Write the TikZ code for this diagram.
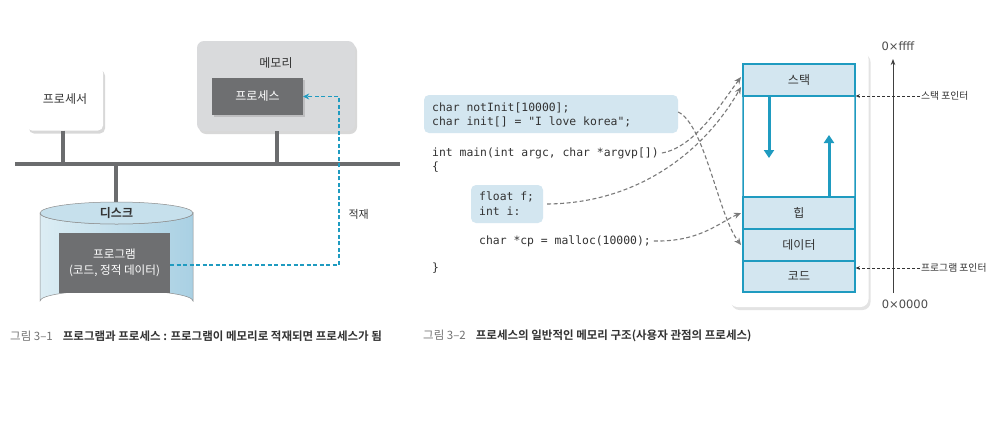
\documentclass[tikz,border=0pt]{standalone}
\usepackage{fontspec}
\setmainfont{Noto Sans CJK KR}
\newfontfamily\kr{Noto Sans CJK KR}
\newfontfamily\krb{Noto Sans CJK KR}[BoldFont={* Bold}]
\newfontfamily\codefont{DejaVu Sans Mono}
\newfontfamily\numfont{DejaVu Sans}
\usetikzlibrary{shadows,arrows.meta}
\definecolor{teal}{HTML}{1F9BC0}
\definecolor{lblue}{HTML}{D3E6F0}
\definecolor{cylL}{HTML}{DCEDF4}
\definecolor{cylR}{HTML}{A9D0E3}
\definecolor{cylT}{HTML}{C6E0EC}
\definecolor{dgray}{HTML}{6E6F71}
\definecolor{mgray}{HTML}{D9DADC}
\definecolor{busgray}{HTML}{6B6C6E}
\definecolor{txt}{HTML}{333333}
\definecolor{arrgray}{HTML}{7A7A7A}
\tikzset{
  shad/.style={drop shadow={opacity=0.3,shadow xshift=2pt,shadow yshift=-3pt,fill=black!50}},
  lbl/.style={font=\fontsize{12}{14}\selectfont\kr, text=txt},
  code/.style={font=\fontsize{11.4}{13}\selectfont\codefont, text=txt, anchor=west, align=left, inner sep=0pt},
  seg/.style={draw=teal, line width=1.5pt, fill=lblue, minimum width=112pt, inner sep=0pt, font=\fontsize{12}{14}\selectfont\kr, text=txt},
  gdash/.style={draw=arrgray, line width=1.1pt, dash pattern=on 4pt off 2.5pt, -{Stealth[length=7pt,width=6pt]}},
  pdash/.style={draw=txt, line width=0.5pt, dash pattern=on 3pt off 2pt, -{Stealth[length=4pt,width=3.5pt]}},
  bus/.style={draw=busgray, line width=3.5pt},
}
\begin{document}
\begin{tikzpicture}[x=1pt,y=-1pt]
\useasboundingbox (0,0) rectangle (1001,445);
\fill[white] (0,0) rectangle (1001,445);

% ---------- Figure 3-1 ----------
\node[shad, fill=white, rounded corners=5pt, minimum width=76pt, minimum height=63pt, lbl] (cpu) at (65,99) {프로세서};
\node[shad, fill=mgray, rounded corners=7pt, minimum width=158pt, minimum height=90pt] (mem) at (276,86) {};
\node[lbl] (memlbl) at (276,63) {메모리};
\node[drop shadow={opacity=0.3,shadow xshift=1.5pt,shadow yshift=-2pt}, fill=dgray, minimum width=91pt, minimum height=37pt, lbl, text=white] (proc) at (257.5,96.5) {프로세스};

% bus
\coordinate (busL) at (15,164);
\coordinate (busR) at (400,164);
\draw[bus] (busL) -- (busR);
\coordinate (cpuB) at (63,164);
\coordinate (memB) at (277,164);
\draw[bus] (cpu.south -| cpuB) -- (cpuB);
\draw[bus] (mem.south -| memB) -- (memB);

% disk cylinder
\coordinate (diskTop) at (116,204);
\draw[bus] (116,164) -- (diskTop);
\shade[left color=cylL, right color=cylR, draw=black!45, line width=0.5pt]
  (40,213) -- (40,301) arc[start angle=180,end angle=360,x radius=76.5,y radius=11] -- (193,213) arc[start angle=0,end angle=180,x radius=76.5,y radius=11];
\draw[fill=cylT, draw=black!45, line width=0.5pt] (116.5,213) ellipse[x radius=76.5,y radius=11];
\node[font=\fontsize{12}{14}\selectfont\krb\bfseries, text=txt] (disk) at (116.5,213) {디스크};
\node[fill=dgray, minimum width=111pt, minimum height=60pt, align=center, text=white, font=\fontsize{11.6}{15.5}\selectfont\kr] (prog) at (114.5,263) {프로그램\\(코드, 정적 데이터)};

% load arrow
\coordinate (loadC) at (339,96.5);
\draw[draw=teal, line width=1.4pt, dash pattern=on 4pt off 2.5pt, -{Stealth[length=6pt,width=6pt]}]
  ([yshift=-2pt]prog.east) -| (loadC) -- (proc.east);
\node[font=\fontsize{11}{13}\selectfont\kr, text=txt, anchor=west] (loadlbl) at (345,214) {적재};

% caption 1
\node[anchor=west, inner sep=0pt, font=\fontsize{11.5}{13}\selectfont\krb] (cap1) at (10,336)
  {\textcolor{black!55}{그림 3–1}\hspace{10pt}\textcolor{txt}{\bfseries 프로그램과 프로세스 : 프로그램이 메모리로 적재되면 프로세스가 됨}};

% ---------- Figure 3-2 ----------
\node[fill=lblue, rounded corners=5pt, minimum width=254pt, minimum height=38pt] (box1) at (551,114) {};
\node[code] (c1) at (432,108) {char notInit[10000];};
\node[code] (c2) at (432,122) {char init[] = "I love korea";};
\node[code] (c3) at (432,153) {int main(int argc, char *argvp[])};
\node[code] (c4) at (432,167) {\{};
\node[fill=lblue, rounded corners=5pt, minimum width=72pt, minimum height=38pt] (box2) at (507,204) {};
\node[code] (c5) at (479,197) {float f;};
\node[code] (c6) at (479,211) {int i:};
\node[code] (c7) at (479,241) {char *cp = malloc(10000);};
\node[code] (c8) at (432,268) {\}};

% memory layout
\node[drop shadow={opacity=0.18,shadow xshift=2pt,shadow yshift=-3pt,fill=black!60}, fill=white, rounded corners=8pt, minimum width=139pt, minimum height=256pt] (mbox) at (799,179) {};
\draw[teal, line width=1.5pt, rounded corners=1pt] (743,64) rectangle (855,292);
\node[seg, minimum height=32pt] (stack) at (799,80) {스택};
\node[seg, minimum height=32pt] (heap) at (799,213) {힙};
\node[seg, minimum height=32pt] (data) at (799,245) {데이터};
\node[seg, minimum height=31pt] (code) at (799,276.5) {코드};
\coordinate (downEnd) at (769,158);
\coordinate (upEnd) at (829,135);
\draw[teal, line width=3pt, -{Triangle[length=8pt,width=10pt]}] (stack.south -| downEnd) -- (downEnd);
\draw[teal, line width=3pt, -{Triangle[length=8pt,width=10pt]}] (heap.north -| upEnd) -- (upEnd);

% address axis
\coordinate (axB) at (893,293);
\coordinate (axT) at (893,59);
\draw[black!75, line width=0.8pt, -{Stealth[length=6pt,width=4.5pt]}] (axB) -- (axT);
\node[font=\fontsize{11.5}{13}\selectfont\numfont, text=black!70] (hi) at (898,46) {0×ffff};
\node[font=\fontsize{11.5}{13}\selectfont\numfont, text=black!70] (lo) at (905,304) {0×0000};

% pointers
\node[anchor=west, font=\fontsize{9.8}{11}\selectfont\kr, text=txt, inner sep=1pt] (sp) at (920,96) {스택 포인터};
\node[anchor=west, font=\fontsize{9.8}{11}\selectfont\kr, text=txt, inner sep=1pt] (pp) at (920,268) {프로그램 포인터};
\draw[pdash] (sp.west) -- (stack.south east |- sp.west);
\draw[pdash] (pp.west) -- (code.east |- pp.west);

% dashed connectors
\coordinate (s1) at (741,77);
\coordinate (s2) at (741,87);
\coordinate (d1) at (741,245);
\coordinate (h1) at (741,213);
\draw[gdash] (box1.east) ++(0,-2) .. controls (705,125) and (718,215) .. (d1);
\draw[gdash] ([xshift=3pt]c3.east) .. controls (695,147) and (720,105) .. (s1);
\draw[gdash] ([xshift=4pt]box2.east) .. controls (640,203) and (705,150) .. (s2);
\draw[gdash] ([xshift=3pt]c7.east) .. controls (700,242) and (720,222) .. (h1);

% caption 2
\node[anchor=west, inner sep=0pt, font=\fontsize{11.5}{13}\selectfont\krb] (cap2) at (423,336)
  {\textcolor{black!55}{그림 3–2}\hspace{10pt}\textcolor{txt}{\bfseries 프로세스의 일반적인 메모리 구조(사용자 관점의 프로세스)}};
\end{tikzpicture}
\end{document}
